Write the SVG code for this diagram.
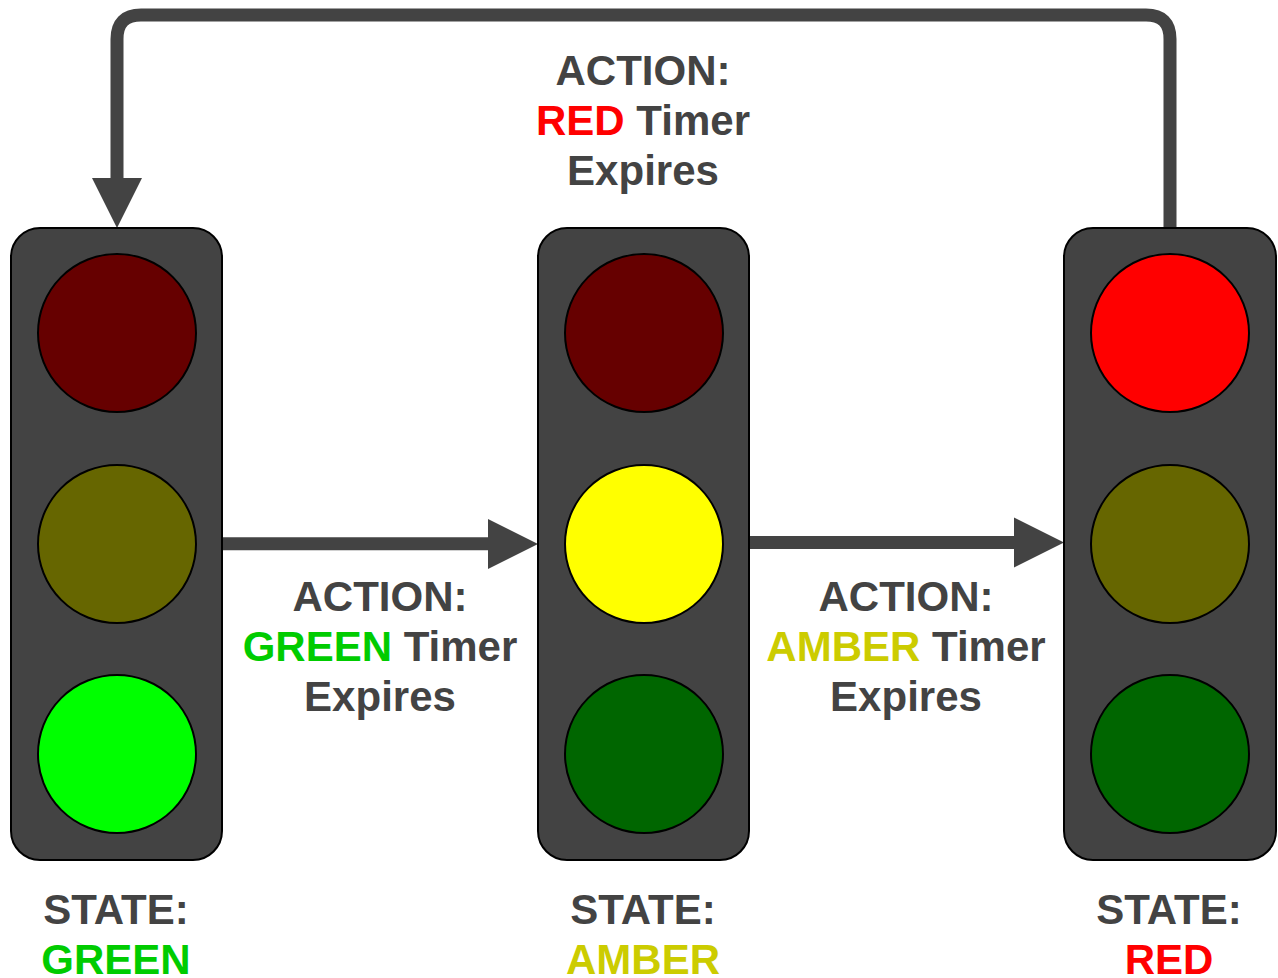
<svg xmlns="http://www.w3.org/2000/svg" width="1278" height="978" viewBox="0 0 1278 978">
<defs>
<style>
.body{fill:#434343;stroke:#000;stroke-width:2}
.lamp{stroke:#000;stroke-width:2}
.wire{fill:none;stroke:#434343;stroke-width:13}
.head{fill:#434343}
text{font-family:"Liberation Sans",Arial,sans-serif;font-weight:700;font-size:42px;fill:#434343;text-anchor:middle}
.g{fill:#00cc00}.a{fill:#cccc00}.r{fill:#ff0000}
</style>
</defs>
<rect width="1278" height="978" fill="#fff"/>
<g id="connectors">
<path class="wire" d="M1170 229V39Q1170 15 1146 15H141Q117 15 117 39V180"/>
<polygon class="head" points="92,178 142,178 117,228"/>
<path class="wire" d="M222 543.7H490"/>
<polygon class="head" points="488,519 538,544 488,569"/>
<path class="wire" d="M749 542.4H1016"/>
<polygon class="head" points="1014,517.6 1064,542.6 1014,567.6"/>
</g>
<g id="light-green">
<rect class="body" x="11" y="228" width="211" height="632" rx="29"/>
<circle class="lamp" cx="117" cy="333" r="79" fill="#660000"/>
<circle class="lamp" cx="117" cy="544" r="79" fill="#666600"/>
<circle class="lamp" cx="117" cy="754" r="79" fill="#00ff00"/>
</g>
<g id="light-amber">
<rect class="body" x="538" y="228" width="211" height="632" rx="29"/>
<circle class="lamp" cx="644" cy="333" r="79" fill="#660000"/>
<circle class="lamp" cx="644" cy="544" r="79" fill="#ffff00"/>
<circle class="lamp" cx="644" cy="754" r="79" fill="#006600"/>
</g>
<g id="light-red">
<rect class="body" x="1064" y="228" width="212" height="632" rx="29"/>
<circle class="lamp" cx="1170" cy="333" r="79" fill="#ff0000"/>
<circle class="lamp" cx="1170" cy="544" r="79" fill="#666600"/>
<circle class="lamp" cx="1170" cy="754" r="79" fill="#006600"/>
</g>
<g id="labels">
<text x="643" y="85">ACTION:</text>
<text x="643" y="135"><tspan class="r">RED</tspan> Timer</text>
<text x="643" y="185">Expires</text>
<text x="380" y="611">ACTION:</text>
<text x="380" y="661"><tspan class="g">GREEN</tspan> Timer</text>
<text x="380" y="711">Expires</text>
<text x="906" y="611">ACTION:</text>
<text x="906" y="661"><tspan class="a">AMBER</tspan> Timer</text>
<text x="906" y="711">Expires</text>
<text x="116" y="924">STATE:</text>
<text class="g" x="116" y="974">GREEN</text>
<text x="643" y="924">STATE:</text>
<text class="a" x="643" y="974">AMBER</text>
<text x="1169" y="924">STATE:</text>
<text class="r" x="1169" y="974">RED</text>
</g>
</svg>
